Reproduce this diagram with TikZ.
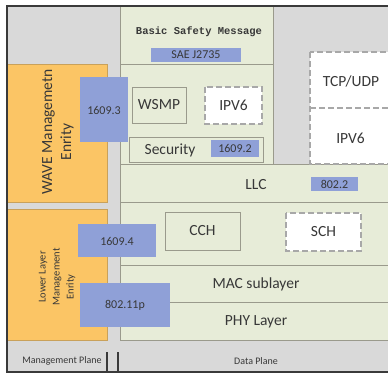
\documentclass[tikz,border=0pt]{standalone}
\usepackage{fontspec}
\setmainfont{Carlito}
\newfontfamily\monob{Liberation Mono}
\definecolor{bggray}{HTML}{D9D9D9}
\definecolor{panelgreen}{HTML}{E7ECD8}
\definecolor{panelline}{HTML}{9A9A8C}
\definecolor{orangefill}{HTML}{FBC565}
\definecolor{orangeline}{HTML}{C9A15A}
\definecolor{bluefill}{HTML}{8FA0D7}
\definecolor{dashgray}{HTML}{A8A8A8}
\definecolor{textgray}{HTML}{383838}
\definecolor{framecol}{HTML}{3A3A3A}
\begin{document}
\begin{tikzpicture}[x=1pt,y=-1pt,
  panel/.style={draw=panelline, fill=panelgreen, line width=0.9pt},
  orangebox/.style={draw=orangeline, fill=orangefill, line width=0.6pt},
  bluebox/.style={fill=bluefill, draw=none},
  whitebox/.style={fill=white, draw=dashgray, line width=1.1pt, dash pattern=on 6pt off 3pt},
  lbl/.style={font=\fontsize{15.5}{18}\selectfont, text=textgray, inner sep=0pt},
  num/.style={font=\fontsize{12}{14}\selectfont, text=textgray, inner sep=0pt},
  small/.style={font=\fontsize{10}{12}\selectfont, text=textgray, inner sep=0pt},
  frameline/.style={draw=framecol, line width=1.6pt},
]
\path[use as bounding box] (0,0) rectangle (388,374);
\clip (0,0) rectangle (388,374);
\fill[white] (0,0) rectangle (388,374);
\fill[bggray] (7,6) rectangle (392,372);

% data plane panels
\draw[panel] (120,6) rectangle (273,64);
\draw[panel] (120,64) rectangle (273,164);
\draw[panel] (120,164) rectangle (395,202);
\draw[panel] (120,202) rectangle (395,340);
\draw[panel] (120,265) -- (395,265);
\draw[panel] (120,302) -- (395,302);

% TCP/UDP + IPv6 dashed box
\draw[whitebox] (310,52) rectangle (398,164);
\draw[whitebox] (310,108) -- (398,108);

% inner boxes
\fill[bluefill] (151,48) rectangle (241,62);
\draw[panel] (132,87) rectangle (186,123);
\draw[whitebox] (205,87) rectangle (262,124);
\draw[panel] (129,137) rectangle (263,162);
\fill[bluefill] (211,140) rectangle (259,157);
\fill[bluefill] (311,177) rectangle (358,191);
\draw[panel] (165,212) rectangle (240,250);
\draw[whitebox] (286,213) rectangle (361,251);

% management entities
\draw[orangebox] (7,64) rectangle (107,202);
\draw[orangebox] (7,209) rectangle (107,340);
\fill[bluefill] (80,77) rectangle (128,142);
\fill[bluefill] (78,224) rectangle (156,257);
\fill[bluefill] (80,283) rectangle (170,327);

% frame
\draw[frameline] (392,6) -- (7,6) -- (7,372) -- (392,372);
\draw[draw=framecol, line width=1.2pt] (107,352) -- (107,372);
\draw[draw=framecol, line width=1.2pt] (118,352) -- (118,372);

% texts
\node[inner sep=0pt, text=textgray, font=\monob\bfseries\fontsize{10.5}{12}\selectfont] (bsm) at (199,32) {Basic Safety Message};
\node[num] (sae) at (196,55) {SAE J2735};
\node[lbl] (wsmp) at (159,105) {WSMP};
\node[lbl] (ipv6a) at (233.5,105.5) {IPV6};
\node[lbl] (sec) at (170,150) {Security};
\node[num] (n16092) at (235,148.5) {1609.2};
\node[lbl] (tcp) at (351,81) {TCP/UDP};
\node[lbl] (ipv6b) at (350.5,138) {IPV6};
\node[lbl] (llc) at (256,185) {LLC};
\node[num] (n8022) at (334.5,184) {802.2};
\node[lbl] (cch) at (202.5,231) {CCH};
\node[lbl] (sch) at (323.5,232) {SCH};
\node[lbl] (mac) at (256,284) {MAC sublayer};
\node[lbl] (phy) at (256,322) {PHY Layer};
\node[num] (n16093) at (104,110) {1609.3};
\node[num] (n16094) at (117,241) {1609.4};
\node[num] (n80211p) at (125,305) {802.11p};
\node[lbl, rotate=90, align=center, font=\fontsize{15.5}{19}\selectfont] (wave) at (58,132) {WAVE Managemetn\\Enrity\hbox to 20pt{}};
\node[rotate=90, align=center, inner sep=0pt, text=textgray, font=\fontsize{10.5}{14}\selectfont] (lower) at (57,277) {Lower Layer\\Management\\Enrity\hbox to 20pt{}};
\node[small] (mp) at (62,361) {Management Plane};
\node[small] (dp) at (256,361) {Data Plane};
\end{tikzpicture}
\end{document}
